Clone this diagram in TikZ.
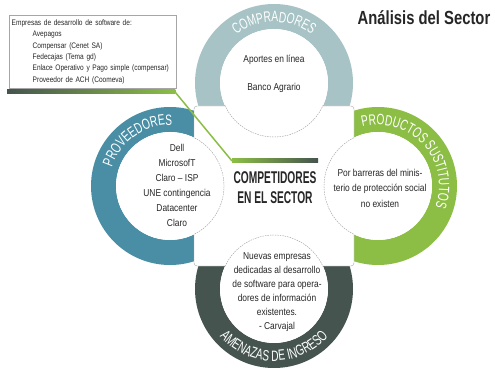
\documentclass[tikz,border=0pt]{standalone}
\usepackage{fontspec}
\setmainfont{Liberation Sans}[FakeStretch=0.84]
\newfontfamily\cajafont{Liberation Sans}[FakeStretch=0.82]
\newfontfamily\anillofont{Liberation Sans}[FakeStretch=0.68]
\newfontfamily\titulofont{Liberation Sans}[FakeStretch=0.78]
\newfontfamily\centrofont{Liberation Sans}[FakeStretch=0.6]
\usetikzlibrary{decorations.text}
\definecolor{compras}{HTML}{A7C3C5}
\definecolor{provee}{HTML}{4A8EA6}
\definecolor{sustit}{HTML}{8CBE46}
\definecolor{amenaza}{HTML}{45544F}
\tikzset{
  anillo/.style={decorate, decoration={text along path, text align=center,
    text={|\anillofont\fontsize{15}{15}\selectfont\color{white}|#1}}},
  circtexto/.style={align=center, text=black!85, font=\fontsize{10}{15}\selectfont},
  disco/.style={fill=white},
}
\begin{document}
\begin{tikzpicture}[x=1pt,y=1pt]
  \useasboundingbox (0,0) rectangle (495,370);
  \fill[compras, even odd rule] (274,287) circle (79) circle (54);
  \fill[provee, even odd rule] (170,184) circle (79) circle (54);
  \fill[sustit, even odd rule] (378,184) circle (79) circle (54);
  \fill[amenaza, even odd rule] (274,81) circle (79) circle (54);
  \filldraw[fill=white, draw=gray!70, thin, rounded corners=3pt] (194,104) rectangle (354,264);
  \fill[disco] (274,287) circle (54);
  \fill[disco] (170,184) circle (54);
  \fill[disco] (378,184) circle (54);
  \fill[disco] (274,81) circle (54);
  \begin{scope}
    \clip (194,104) rectangle (354,264);
    \foreach \c in {(274,287),(170,184),(378,184),(274,81)}
      \draw[gray!80, dash pattern=on 1.5pt off 1pt] \c circle (54);
  \end{scope}
  \path[anillo={COMPRADORES}] (274,287) ++(150:61) arc[start angle=150, end angle=30, radius=61];
  \path[anillo={PROVEEDORES}] (170,184) ++(175:61) arc[start angle=175, end angle=75, radius=61];
  \path[anillo={PRODUCTOS SUSTITUTOS}] (378,184) ++(135:61) arc[start angle=135, end angle=-50, radius=61];
  \path[anillo={AMENAZAS DE INGRESO}] (274,81) ++(195:72) arc[start angle=195, end angle=345, radius=72];
  \node[circtexto] (compradores) at (274,296) {Aportes en línea\\[13pt]Banco Agrario};
  \node[circtexto] (proveedores) at (177,185) {Dell\\MicrosofT\\Claro -- ISP\\UNE contingencia\\Datacenter\\Claro};
  \node[circtexto, font=\fontsize{10}{15.5}\selectfont] (sustitutos) at (380,182) {Por barreras del minis-\\terio de protección social\\no existen};
  \node[circtexto, font=\fontsize{10}{14}\selectfont] (nuevas) at (277,78) {Nuevas empresas\\dedicadas al desarrollo\\de software para opera-\\dores de información\\existentes.\\- Carvajal};
  \node[font=\centrofont\bfseries\fontsize{17}{20}\selectfont, align=center, text=black!85] (competidores) at (275,182) {COMPETIDORES\\EN EL SECTOR};
  \node[font=\titulofont\bfseries\fontsize{19}{20}\selectfont, text=black!85] (titulo) at (424,352) {Análisis del Sector};
  \node[draw=gray!70, thin, anchor=north west, text width=162pt, minimum height=73pt, inner xsep=2.5pt, inner ysep=2pt,
    align=left, font=\cajafont\fontsize{8}{11.4}\selectfont, text=black!85] (lista) at (9,355)
    {\mbox{Empresas de desarrollo de software de:}\\
     \mbox{\hspace*{21pt}Avepagos}\\
     \mbox{\hspace*{21pt}Compensar (Cenet SA)}\\
     \mbox{\hspace*{21pt}Fedecajas (Tema gd)}\\
     \mbox{\hspace*{21pt}Enlace Operativo y Pago simple (compensar)}\\
     \mbox{\hspace*{21pt}Proveedor de ACH (Coomeva)}};
  \coordinate (c1) at ([xshift=-1pt,yshift=-4pt]lista.south east);
  \shade[left color=amenaza, middle color=provee, right color=sustit] (7,276) rectangle (c1 |- 0,280);
  \draw[sustit, line width=1.5pt] (c1) -- (232,209);
  \shade[left color=sustit, middle color=provee, right color=amenaza] (232,207) rectangle (318,211);
\end{tikzpicture}
\end{document}
